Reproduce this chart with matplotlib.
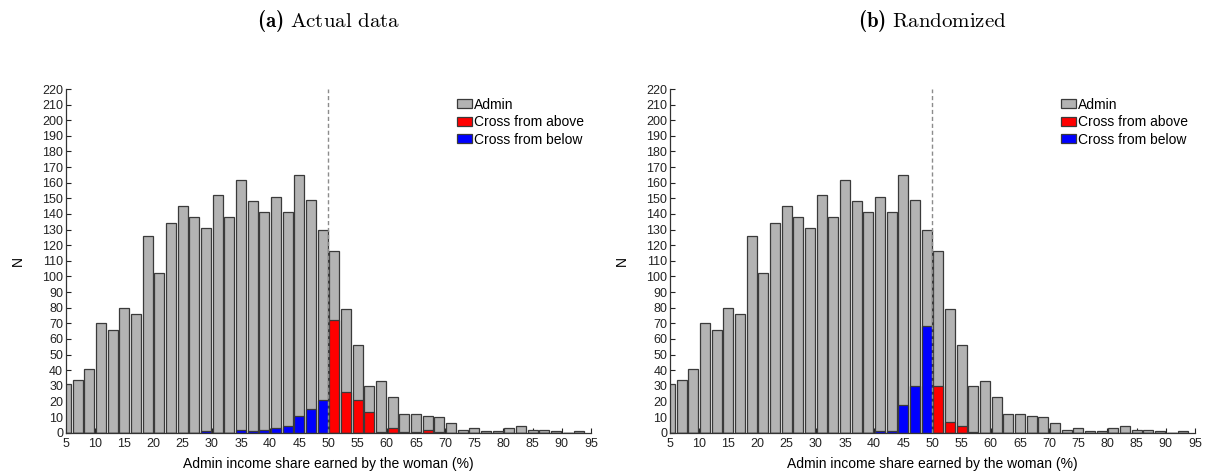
import matplotlib.pyplot as plt

plt.rcParams['font.family'] = ['Liberation Sans', 'DejaVu Sans']
plt.rcParams['mathtext.fontset'] = 'custom'
plt.rcParams['mathtext.rm'] = 'cmr10'
plt.rcParams['mathtext.bf'] = 'cmb10'

# bin centres (2-point bins) of the admin income share earned by the woman (%)
centers = list(range(5, 95, 2))

admin = [31, 34, 41, 70, 66, 80, 76, 126, 102, 134, 145, 138, 131, 152, 138,
         162, 148, 141, 151, 141, 165, 149, 130, 116, 79, 56, 30, 33, 23, 12,
         12, 11, 10, 6, 2, 3, 1, 1, 3, 4, 2, 2, 1, 0, 1]

# actual data
above_actual = [0, 0, 0, 0, 0, 0, 0, 0, 0, 0, 0, 0, 0, 0, 0,
                0, 0, 0, 0, 0, 0, 0, 0, 72, 26, 21, 13, 0.6, 3, 0.6,
                0.6, 2, 0.6, 0, 0, 0, 0, 0, 0, 0, 0, 0, 0, 0, 0]
below_actual = [0, 0, 0, 0, 0, 0, 0, 0, 0, 0, 0, 0, 1, 0, 0,
                2, 1, 2, 3, 4, 11, 15, 21, 0, 0, 0, 0, 0, 0, 0,
                0, 0, 0, 0, 0, 0, 0, 0, 0, 0, 0, 0, 0, 0, 0]

# randomized
above_random = [0, 0, 0, 0, 0, 0, 0, 0, 0, 0, 0, 0, 0, 0, 0,
                0, 0, 0, 0, 0, 0, 0, 0, 30, 7, 4, 0.6, 0, 0, 0,
                0, 0, 0, 0, 0, 0, 0, 0, 0, 0, 0, 0, 0, 0, 0]
below_random = [0, 0, 0, 0, 0, 0, 0, 0, 0, 0, 0, 0, 0, 0, 0,
                0, 0, 0, 1, 1, 18, 30, 68, 0, 0, 0, 0, 0, 0, 0,
                0, 0, 0, 0, 0, 0, 0, 0, 0, 0, 0, 0, 0, 0, 0]

titles = [r'$\mathbf{(a)}\ \mathrm{Actual\ data}$', r'$\mathbf{(b)}\ \mathrm{Randomized}$']
panels = [(above_actual, below_actual), (above_random, below_random)]

fig = plt.figure(figsize=(12.1, 4.76), dpi=100)
lefts = [0.0545, 0.5537]

edge = '#3a3a3a'
for i in range(2):
    ax = fig.add_axes([lefts[i], 0.091, 0.4339, 0.722])
    above, below = panels[i]
    b1 = ax.bar(centers, admin, width=1.7, color='#b3b3b3', edgecolor=edge, linewidth=0.9, label='Admin')
    b2 = ax.bar(centers, above, width=1.7, color='#ff0000', edgecolor=edge, linewidth=0.9, label='Cross from above')
    b3 = ax.bar(centers, below, width=1.7, color='#0000ff', edgecolor=edge, linewidth=0.9, label='Cross from below')
    ax.axvline(50, color='#8c8c8c', linestyle=(0, (3, 2)), linewidth=1)
    ax.set_axisbelow(True)

    ax.set_xlim(5, 95)
    ax.set_ylim(0, 220)
    ax.set_xticks(range(5, 96, 5))
    ax.set_yticks(range(0, 221, 10))
    ax.tick_params(direction='in', length=3.3, labelsize=9, colors='#222222')
    ax.tick_params(axis='x', pad=4)
    ax.tick_params(axis='y', pad=2)
    for s in ['top', 'right']:
        ax.spines[s].set_visible(False)
    for s in ['left', 'bottom']:
        ax.spines[s].set_color('#333333')
        ax.spines[s].set_linewidth(0.9)

    ax.set_xlabel('Admin income share earned by the woman (%)', fontsize=10, labelpad=5)
    ax.set_ylabel('N', fontsize=10, labelpad=12.5)

    ax.legend(handles=[b1, b2, b3], frameon=False, loc='upper left',
              bbox_to_anchor=(0.745, 0.975), borderaxespad=0, borderpad=0,
              fontsize=10, handlelength=1.1, handleheight=0.6,
              handletextpad=0.1, labelspacing=0.25)

    fig.text(lefts[i] + 0.4339 / 2, 0.955, titles[i], ha='center', va='center', fontsize=15)

fig.savefig('out.png', dpi=100)
